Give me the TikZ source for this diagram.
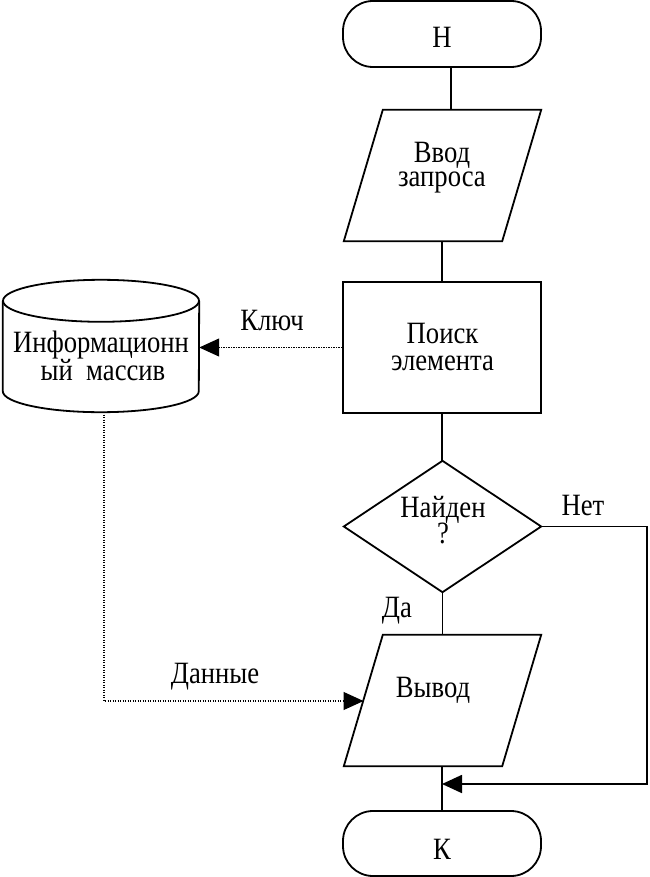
\documentclass[tikz,border=0pt]{standalone}
\usepackage{fontspec}
\setmainfont{Liberation Serif}[FakeStretch=0.86]
\usetikzlibrary{arrows.meta,calc}
\begin{document}
\begin{tikzpicture}[x=1pt,y=-1pt,
  shapeline/.style={line width=1.8pt, line join=miter},
  flow/.style={line width=1.8pt},
  dat/.style={line width=1.2pt, dash pattern=on 1.2pt off 1.3pt},
  tip/.style={-{Triangle[length=20pt,width=18pt]}},
  txt/.style={anchor=base, inner sep=0pt, font=\fontsize{31}{31}\selectfont},
  box/.style={inner sep=0pt, minimum width=197pt, minimum height=131pt},
  term/.style={draw, line width=1.8pt, rounded corners=30pt, inner sep=0pt, minimum width=198pt}]
\useasboundingbox (0,0) rectangle (649,877);

% shapes
\node[term, minimum height=66pt] (N) at (442,34) {};
\node[box] (vvod) at (442.5,175.5) {};
\draw[shapeline] ([xshift=39pt]vvod.north west) -- (vvod.north east) -- ([xshift=-39pt]vvod.south east) -- (vvod.south west) -- cycle;
\node[box, draw, line width=1.8pt, minimum width=198pt] (poisk) at (442,347.5) {};
\node[box] (naiden) at (442.5,526.5) {};
\draw[shapeline] (naiden.north) -- (naiden.east) -- (naiden.south) -- (naiden.west) -- cycle;
\node[box] (vyvod) at (442.5,700.5) {};
\draw[shapeline] ([xshift=39pt]vyvod.north west) -- (vyvod.north east) -- ([xshift=-39pt]vyvod.south east) -- (vyvod.south west) -- cycle;
\node[term, minimum height=65pt] (K) at (442,843.5) {};
\node[box, minimum width=196pt, minimum height=132pt] (db) at (101,346) {};
\draw[shapeline] ([yshift=-21pt]db.north) ellipse [x radius=98pt, y radius=21pt];
\draw[shapeline] ([yshift=-21pt]db.north west) -- ([yshift=21pt]db.south west)
  arc[start angle=180, end angle=360, x radius=98pt, y radius=21pt]
  -- ([yshift=-21pt]db.north east);

% texts
\node[txt] (Nt) at (442,48) {Н};
\node[txt] (vvod1) at (442,163) {Ввод};
\node[txt] (vvod2) at (442,187) {запроса};
\node[txt] (poisk1) at (442.5,343) {Поиск};
\node[txt] (poisk2) at (442.5,370) {элемента};
\node[txt] (naiden1) at (443,517) {Найден};
\node[txt] (naiden2) at (443,543) {?};
\node[txt] (vyvodt) at (433,697) {Вывод};
\node[txt] (Kt) at (442,859) {К};
\node[txt] (db1) at (101,352) {Информационн};
\node[txt] (db2) at (103,380) {ый\ \ массив};
\node[txt] (kl) at (272,330) {Ключ};
\node[txt] (dn) at (215,683) {Данные};
\node[txt] (net) at (583,515) {Нет};
\node[txt] (da) at (397,617) {Да};

% connectors
\coordinate (c1) at (647,526.5);
\coordinate (c2) at (647,784);
\coordinate (m) at (442,784);
\coordinate (d1) at (104,701);
\coordinate (vin) at (363.5,701);

\draw[flow] ([xshift=9pt]N.south) -- ([xshift=9pt]N.south |- vvod.north);
\draw[flow] (poisk.north |- vvod.south) -- (poisk.north);
\draw[flow] (poisk.south) -- (poisk.south |- naiden.north);
\draw[flow] (naiden.south) -- (vyvod.north);
\draw[flow] (K.north |- vyvod.south) -- (K.north);
\draw[flow, tip] (naiden.east) -- (c1) -- (c2) -- (m);
\draw[dat, tip] (poisk.west) -- (poisk.west -| db.east);
\draw[dat, tip] ([xshift=3pt]db.south) -- (d1) -- (vin);
\end{tikzpicture}
\end{document}
